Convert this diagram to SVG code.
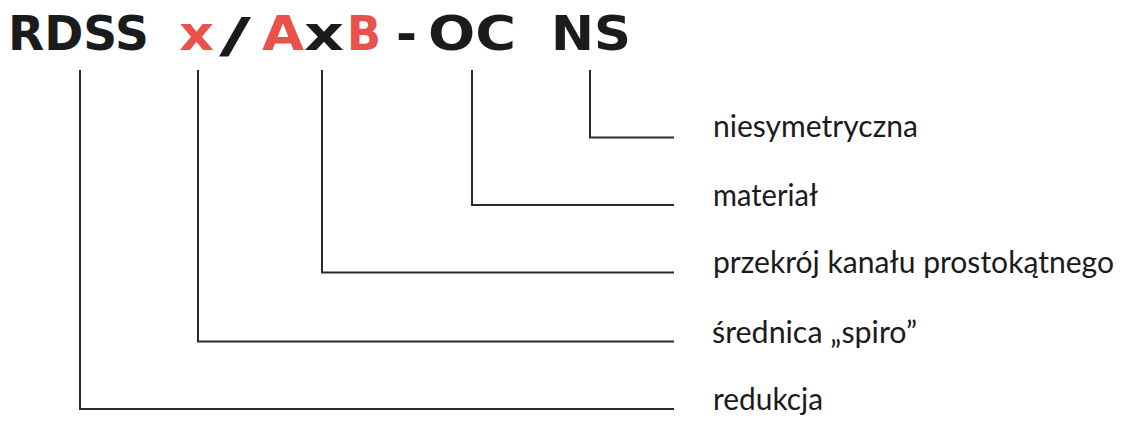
<svg xmlns="http://www.w3.org/2000/svg" width="1122" height="430" viewBox="0 0 1122 430">
<style>
.t{font-family:"DejaVu Sans","Liberation Sans",sans-serif;font-weight:700;font-size:48px;fill:#1b1b1b}
.r{fill:#e8524a}
.l{font-family:Lato,"Open Sans","Liberation Sans",sans-serif;font-size:30px;fill:#1b1b1b}
.c{fill:none;stroke:#2b2b2b;stroke-width:2}
</style>
<rect width="1122" height="430" fill="#ffffff"/>
<g id="title">
<text class="t" x="8" y="50" textLength="141" lengthAdjust="spacingAndGlyphs">RDSS</text>
<text class="t r" x="179" y="50" textLength="35" lengthAdjust="spacingAndGlyphs">x</text>
<text class="t" x="219" y="52" textLength="32" lengthAdjust="spacingAndGlyphs">/</text>
<text class="t r" x="262" y="50" textLength="42" lengthAdjust="spacingAndGlyphs">A</text>
<text class="t" x="304" y="50" textLength="40" lengthAdjust="spacingAndGlyphs">x</text>
<text class="t r" x="347" y="50" textLength="34" lengthAdjust="spacingAndGlyphs">B</text>
<text class="t" x="396" y="50" textLength="21" lengthAdjust="spacingAndGlyphs">-</text>
<text class="t" x="428" y="50" textLength="88" lengthAdjust="spacingAndGlyphs">OC</text>
<text class="t" x="551" y="50" textLength="80" lengthAdjust="spacingAndGlyphs">NS</text>
</g>
<g id="connectors">
<polyline class="c" points="590,70 590,137.5 674,137.5"/>
<polyline class="c" points="472,70 472,205 674,205"/>
<polyline class="c" points="322,70 322,272.5 674,272.5"/>
<polyline class="c" points="198,70 198,341.5 674,341.5"/>
<polyline class="c" points="80,70 80,409 674,409"/>
</g>
<g id="label-ns"><text class="l" x="713" y="137" textLength="205" lengthAdjust="spacingAndGlyphs">niesymetryczna</text></g>
<g id="label-oc"><text class="l" x="713" y="206" textLength="105" lengthAdjust="spacingAndGlyphs">materiał</text></g>
<g id="label-axb"><text class="l" x="713" y="273" textLength="401" lengthAdjust="spacingAndGlyphs">przekrój kanału prostokątnego</text></g>
<g id="label-x"><text class="l" x="712" y="343" textLength="205" lengthAdjust="spacingAndGlyphs">średnica „spiro”</text></g>
<g id="label-rdss"><text class="l" x="713" y="410" textLength="110" lengthAdjust="spacingAndGlyphs">redukcja</text></g>
</svg>
